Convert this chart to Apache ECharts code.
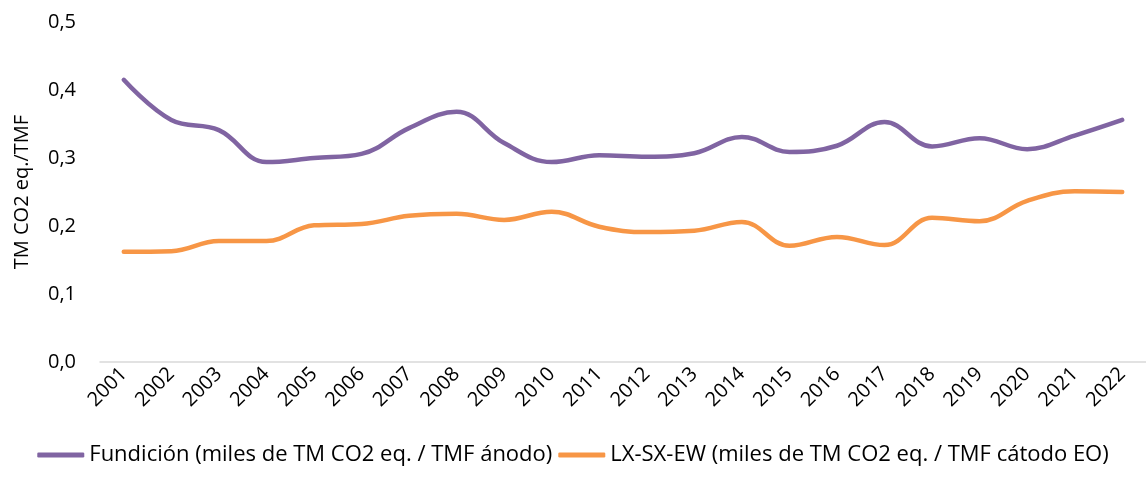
<!DOCTYPE html>
<html>
<head>
<meta charset="utf-8">
<script src="https://cdn.jsdelivr.net/npm/echarts@6/dist/echarts.min.js"></script>
<style>html,body{margin:0;padding:0;background:#fff}#c{width:1146px;height:493px}</style>
</head>
<body>
<div id="c"></div>
<script>
const years = ['2001','2002','2003','2004','2005','2006','2007','2008','2009','2010','2011','2012','2013','2014','2015','2016','2017','2018','2019','2020','2021','2022'];
const fundicion = [0.415,0.356,0.341,0.294,0.300,0.306,0.344,0.368,0.322,0.294,0.304,0.302,0.307,0.331,0.309,0.318,0.353,0.317,0.329,0.313,0.333,0.356];
const lxsxew = [0.162,0.163,0.178,0.178,0.201,0.203,0.215,0.218,0.209,0.221,0.199,0.191,0.193,0.206,0.171,0.184,0.172,0.212,0.207,0.237,0.251,0.250];
const seriesNames = ['Fundición (miles de TM CO2 eq. / TMF ánodo)','LX-SX-EW (miles de TM CO2 eq. / TMF cátodo EO)'];
const yTicks = [0,0.1,0.2,0.3,0.4,0.5];
const yName = 'TM CO2 eq./TMF';

const font = '"Open Sans", "Liberation Sans", sans-serif';
const chart = echarts.init(document.getElementById('c'), null, {renderer:'canvas'});
chart.setOption({
  animation:false,
  backgroundColor:'#fff',
  grid:{left:100, top:22, width:1052, height:340, containLabel:false},
  legend:{
    top:439, left:'center', itemWidth:47, itemHeight:5, itemGap:6,
    icon:'roundRect',
    textStyle:{fontFamily:font, fontSize:22, color:'#000'},
    data:seriesNames
  },
  xAxis:{
    type:'category', data:years, boundaryGap:true,
    axisLine:{lineStyle:{color:'#d9d9d9', width:1.5}},
    axisTick:{show:false},
    axisLabel:{rotate:45, color:'#000', fontFamily:font, fontSize:20, margin:9, interval:0}
  },
  yAxis:{
    type:'value', min:yTicks[0], max:yTicks[yTicks.length-1], interval:0.1,
    name:yName, nameLocation:'middle', nameGap:68, nameRotate:90,
    nameTextStyle:{fontFamily:font, fontSize:20, color:'#000'},
    splitLine:{show:false}, axisLine:{show:false}, axisTick:{show:false},
    axisLabel:{color:'#000', fontFamily:font, fontSize:20, margin:24,
      formatter:v=>v.toFixed(1).replace('.',',')}
  },
  series:[
    {name:seriesNames[0], type:'line', data:fundicion, smooth:0.4, symbol:'none',
     lineStyle:{color:'#8064A2', width:4.5, cap:'round'}, itemStyle:{color:'#8064A2'}},
    {name:seriesNames[1], type:'line', data:lxsxew, smooth:0.4, symbol:'none',
     lineStyle:{color:'#F79646', width:4.5, cap:'round'}, itemStyle:{color:'#F79646'}}
  ]
});
</script>
</body>
</html>
